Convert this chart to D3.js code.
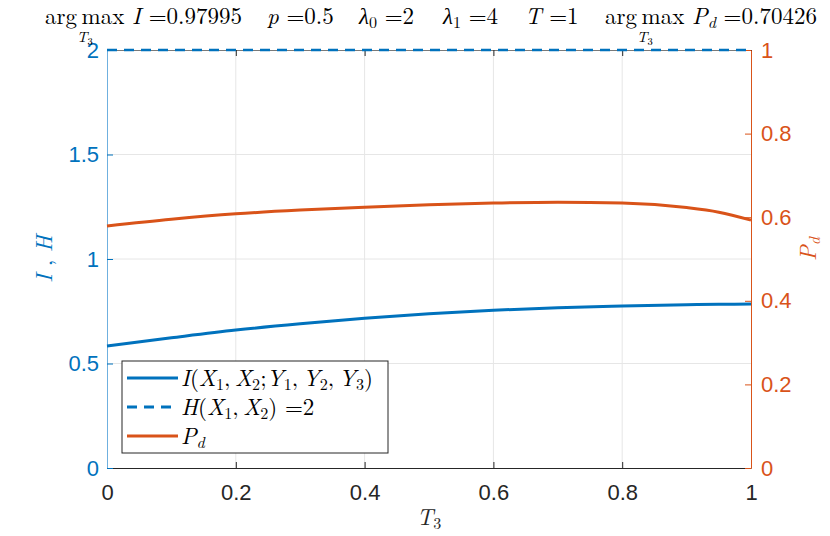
<!DOCTYPE html>
<html>
<head>
<meta charset="utf-8">
<script src="https://cdn.jsdelivr.net/npm/d3@7"></script>
<style>
  body { margin: 0; background: #fff; }
  svg { display: block; }
</style>
</head>
<body>
<svg id="chart" width="830" height="536"></svg>
<script>
// data
const t3 = [0, 0.1, 0.2, 0.3, 0.4, 0.5, 0.6, 0.7, 0.8, 0.9, 0.95, 1];
const mutualInfo = [0.584, 0.623, 0.66, 0.69, 0.716, 0.738, 0.755, 0.767, 0.775, 0.781, 0.783, 0.785];
const pd = [0.579, 0.595, 0.608, 0.617, 0.624, 0.630, 0.634, 0.636, 0.634, 0.623, 0.612, 0.593];
const entropyH = 2;
const xTicks = [0, 0.2, 0.4, 0.6, 0.8, 1];
const leftTicks = [0, 0.5, 1, 1.5, 2];
const rightTicks = [0, 0.2, 0.4, 0.6, 0.8, 1];

const blue = "#0072BD", orange = "#D95319";
const width = 830, height = 536;
const margin = { top: 50, right: 79, bottom: 68, left: 107 };
const svg = d3.select("#chart");
const serif = '"Latin Modern Roman", "Liberation Serif", serif';
const sans = '"Liberation Sans", Arial, sans-serif';

const x = d3.scaleLinear().domain([0, 1]).range([margin.left, width - margin.right]);
const yL = d3.scaleLinear().domain([0, 2]).range([height - margin.bottom, margin.top]);
const yR = d3.scaleLinear().domain([0, 1]).range([height - margin.bottom, margin.top]);

// grid
const grid = svg.append("g").attr("stroke", "#e6e6e6").attr("stroke-width", 1);
xTicks.slice(1, -1).forEach(v => grid.append("line")
  .attr("x1", x(v)).attr("x2", x(v)).attr("y1", yL(0)).attr("y2", yL(2)));
leftTicks.slice(1, -1).forEach(v => grid.append("line")
  .attr("x1", x(0)).attr("x2", x(1)).attr("y1", yL(v)).attr("y2", yL(v)));

// axes (ticks inward, like matlab)
const tk = 6;
const xAxis = svg.append("g").attr("transform", `translate(0,${yL(0)})`)
  .call(d3.axisBottom(x).tickValues(xTicks).tickSizeInner(-tk).tickSizeOuter(0).tickPadding(16)
    .tickFormat(d3.format("~g")));
const xTop = svg.append("g").attr("transform", `translate(0,${yL(2)})`)
  .call(d3.axisTop(x).tickValues(xTicks).tickSizeInner(-tk).tickSizeOuter(0).tickFormat(""));
[xAxis, xTop].forEach(g => {
  g.select(".domain").attr("stroke", "#262626");
  g.selectAll(".tick line").attr("stroke", "#262626");
});
xTop.select(".domain").attr("stroke", "#7a7a7a");
xAxis.selectAll("text").style("font-family", sans).attr("font-size", 22).attr("fill", "#262626");

const leftAxis = svg.append("g").attr("transform", `translate(${x(0)},0)`)
  .call(d3.axisLeft(yL).tickValues(leftTicks).tickSizeInner(-tk).tickSizeOuter(0).tickPadding(8)
    .tickFormat(d3.format("~g")));
leftAxis.select(".domain").attr("stroke", "#6fb0df");
leftAxis.selectAll(".tick line").attr("stroke", blue);
leftAxis.selectAll("text").style("font-family", sans).attr("font-size", 22).attr("fill", blue);

const rightAxis = svg.append("g").attr("transform", `translate(${x(1)},0)`)
  .call(d3.axisRight(yR).tickValues(rightTicks).tickSizeInner(-tk).tickSizeOuter(0).tickPadding(10)
    .tickFormat(d3.format("~g")));
rightAxis.select(".domain").attr("stroke", orange);
rightAxis.selectAll(".tick line").attr("stroke", orange);
rightAxis.selectAll("text").style("font-family", sans).attr("font-size", 22).attr("fill", orange);

// lines
const lineI = d3.line().x((d, i) => x(t3[i])).y(d => yL(d)).curve(d3.curveMonotoneX);
const linePd = d3.line().x((d, i) => x(t3[i])).y(d => yR(d)).curve(d3.curveMonotoneX);

svg.append("path").datum(pd).attr("fill", "none").attr("stroke", orange)
  .attr("stroke-width", 3).attr("d", linePd);
svg.append("path").datum(mutualInfo).attr("fill", "none").attr("stroke", blue)
  .attr("stroke-width", 3).attr("d", lineI);
svg.append("line").attr("x1", x(0)).attr("x2", x(1)).attr("y1", yL(entropyH)).attr("y2", yL(entropyH))
  .attr("stroke", blue).attr("stroke-width", 2.5).attr("stroke-dasharray", "10,7");

function mathText(sel, parts, size) {
  parts.forEach(([s, k]) => {
    const ts = sel.append("tspan").text(s);
    if (k === "i" || k === "isub") ts.attr("font-style", "italic");
    if (k === "sub" || k === "isub") ts.attr("font-size", size * 0.7).attr("baseline-shift", "-25%");
  });
}

// legend
const th = "\u2009";
const lg = svg.append("g").attr("transform", "translate(122,361)");
lg.append("rect").attr("width", 266).attr("height", 92).attr("fill", "#fff")
  .attr("stroke", "#262626").attr("stroke-width", 1);
const items = [
  { color: blue, dash: null, parts: [["I", "i"], ["(", ""], ["X", "i"], ["1", "sub"], [","+th, ""], ["X", "i"], ["2", "sub"], [";", ""], ["Y", "i"], ["1", "sub"], [","+th, ""], ["Y", "i"], ["2", "sub"], [","+th, ""], ["Y", "i"], ["3", "sub"], [")", ""]] },
  { color: blue, dash: "10,7", parts: [["H", "i"], ["(", ""], ["X", "i"], ["1", "sub"], [","+th, ""], ["X", "i"], ["2", "sub"], [") =2", ""]] },
  { color: orange, dash: null, parts: [["P", "i"], ["d", "isub"]] }
];
items.forEach((it, i) => {
  const yy = 17 + i * 29;
  lg.append("line").attr("x1", 5).attr("x2", 56).attr("y1", yy).attr("y2", yy)
    .attr("stroke", it.color).attr("stroke-width", 3).attr("stroke-dasharray", it.dash);
  const tx = lg.append("text").attr("x", 59).attr("y", yy + 8).attr("xml:space", "preserve")
    .style("font-family", serif).attr("font-size", 23).attr("fill", "#000");
  mathText(tx, it.parts, 23);
});

// axis labels
const lblL = svg.append("text").attr("transform", `translate(52,${yL(1)}) rotate(-90)`)
  .attr("xml:space", "preserve")
  .attr("text-anchor", "middle").style("font-family", serif).attr("font-size", 23).attr("fill", blue);
mathText(lblL, [["I", "i"], [" , ", ""], ["H", "i"]], 23);

const lblR = svg.append("text").attr("transform", `translate(816,249) rotate(-90)`)
  .attr("text-anchor", "middle").style("font-family", serif).attr("font-size", 23).attr("fill", orange);
mathText(lblR, [["P", "i"], ["d", "isub"]], 23);

const lblX = svg.append("text").attr("x", x(0.5)).attr("y", 525)
  .attr("text-anchor", "middle").style("font-family", serif).attr("font-size", 23).attr("fill", "#262626");
mathText(lblX, [["T", "i"], ["3", "sub"]], 23);

// title, one piece per parameter
const titleGroups = [
  { x0: 45, argmax: true, parts: [["I", "i"], [" =0.97995", ""]] },
  { x0: 267, parts: [["p", "i"], [" =0.5", ""]] },
  { x0: 359, parts: [["λ", "i"], ["0", "sub"], [" =2", ""]] },
  { x0: 443, parts: [["λ", "i"], ["1", "sub"], [" =4", ""]] },
  { x0: 525, parts: [["T", "i"], [" =1", ""]] },
  { x0: 605, argmax: true, parts: [["P", "i"], ["d", "isub"], [" =0.70426", ""]] }
];
titleGroups.forEach(g => {
  const t = svg.append("text").attr("x", g.x0).attr("y", 24).attr("xml:space", "preserve")
    .style("font-family", serif).attr("font-size", 23).attr("fill", "#000");
  if (g.argmax) {
    const am = t.append("tspan").text("arg" + th + "max");
    t.append("tspan").text(" ");
    mathText(t, g.parts, 23);
    const b = am.node().getBBox();
    const u = svg.append("text").attr("x", b.x + b.width / 2).attr("y", 42).attr("text-anchor", "middle")
      .style("font-family", serif).attr("font-size", 15);
    mathText(u, [["T", "i"], ["3", "sub"]], 15);
  } else {
    mathText(t, g.parts, 23);
  }
});
</script>
</body>
</html>
